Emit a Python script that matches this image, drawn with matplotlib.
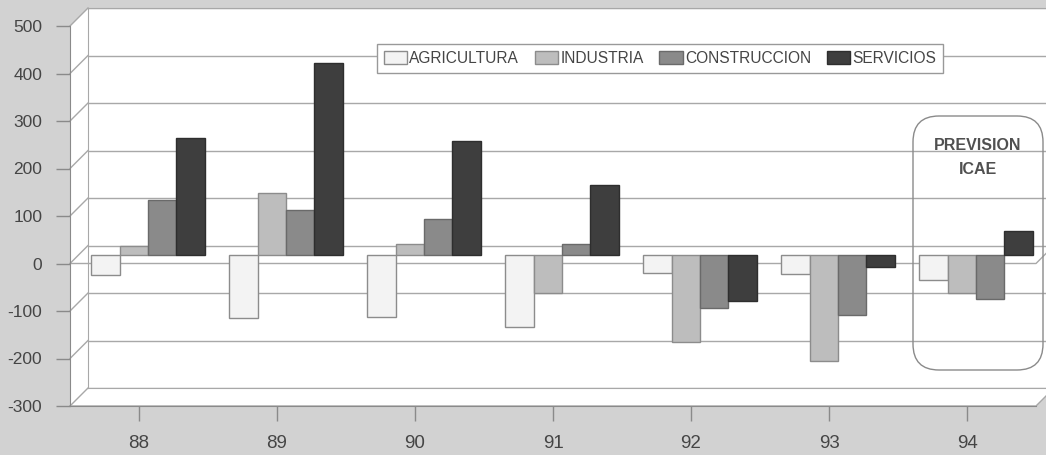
import matplotlib
matplotlib.use("Agg")
import matplotlib.pyplot as plt
import matplotlib.transforms as mtransforms
from matplotlib import font_manager
from matplotlib.patches import Patch, Polygon, FancyBboxPatch
from matplotlib.lines import Line2D
import numpy as np

# data
years = ['88', '89', '90', '91', '92', '93', '94']
series = ['AGRICULTURA', 'INDUSTRIA', 'CONSTRUCCION', 'SERVICIOS']
agricultura = [-44, -133, -131, -152, -38, -42, -53]
industria = [17, 129, 23, -82, -184, -224, -82]
construccion = [114, 93, 74, 23, -112, -127, -93]
servicios = [245, 403, 240, 146, -97, -27, 49]
yticks = [-300, -200, -100, 0, 100, 200, 300, 400, 500]

colors = ['#f3f3f3', '#bdbdbd', '#8a8a8a', '#3e3e3e']
edges = ['#8c8c8c', '#8c8c8c', '#6a6a6a', '#2e2e2e']
bg = '#d2d2d2'
grid = '#a8a8a8'
txt = '#454545'

names = {f.name for f in font_manager.fontManager.ttflist}
fam = 'Liberation Sans Narrow' if 'Liberation Sans Narrow' in names else 'Liberation Sans'
plt.rcParams['font.family'] = [fam, 'DejaVu Sans']

W, H = 1046, 455
fig = plt.figure(figsize=(W / 100, H / 100), dpi=100, facecolor=bg)

# geometry of the pseudo 3D box (pixels, y from top)
left, right = 79, 1045
top, bottom = 17, 397
d = 9  # depth offset


def frac(x, y):
    return x / W, 1 - y / H


def axes_rect(dx, dy):
    return [(left + dx) / W, (H - bottom + dy) / H,
            (right - left) / W, (bottom - top) / H]


ylim = (-300, 500)
xlim = (-0.5, len(years) - 0.5)


def ypix(v, dy):
    # y from top for value v on a plane shifted up by dy
    return bottom - dy - (v - ylim[0]) / (ylim[1] - ylim[0]) * (bottom - top)


# side wall and floor (white)
fx0, bx0 = left - d, left + d
fx1, bx1 = right - d, right + d
side = Polygon([frac(fx0, ypix(500, -d)), frac(bx0, ypix(500, d)),
                frac(bx0, ypix(-300, d)), frac(fx0, ypix(-300, -d))],
               closed=True, transform=fig.transFigure, facecolor='white',
               edgecolor='none', zorder=0)
floor = Polygon([frac(fx0, ypix(-300, -d)), frac(bx0, ypix(-300, d)),
                 frac(bx1, ypix(-300, d)), frac(fx1, ypix(-300, -d))],
                closed=True, transform=fig.transFigure, facecolor='white',
                edgecolor='none', zorder=0)
fig.patches.extend([side, floor])

# back wall
ax_back = fig.add_axes(axes_rect(d, d), zorder=1)
ax_back.set_facecolor('white')
ax_back.set_xlim(xlim)
ax_back.set_ylim(ylim)
ax_back.set_yticks(yticks)
ax_back.set_xticks([])
ax_back.tick_params(left=False, labelleft=False)
ax_back.grid(axis='y', color=grid, lw=1)
for s in ax_back.spines.values():
    s.set_color(grid)
ax_back.spines['right'].set_visible(False)

# diagonals on the side wall, zero plane and floor edge
for v in yticks:
    fig.lines.append(Line2D([fx0 / W, bx0 / W],
                            [1 - ypix(v, -d) / H, 1 - ypix(v, d) / H],
                            transform=fig.transFigure, color=grid, lw=1, zorder=2))
for v in (0, -300):
    fig.lines.append(Line2D([fx0 / W, fx1 / W, bx1 / W],
                            [1 - ypix(v, -d) / H, 1 - ypix(v, -d) / H, 1 - ypix(v, d) / H],
                            transform=fig.transFigure, color=grid, lw=1, zorder=2))

# bars on the middle plane
ax = fig.add_axes(axes_rect(0, 0), zorder=3)
ax.set_facecolor('none')
ax.set_xlim(xlim)
ax.set_ylim(ylim)
ax.axis('off')
x = np.arange(len(years))
w = 0.205
for i, vals in enumerate([agricultura, industria, construccion, servicios]):
    ax.bar(x + (i - 1.5) * w, vals, width=w, color=colors[i],
           edgecolor=edges[i], lw=1, label=series[i])

# front axis with ticks and labels
ax_front = fig.add_axes(axes_rect(-d, -d), zorder=4)
ax_front.set_facecolor('none')
ax_front.set_xlim(xlim)
ax_front.set_ylim(ylim)
for s in ['top', 'right']:
    ax_front.spines[s].set_visible(False)
for s in ['left', 'bottom']:
    ax_front.spines[s].set_color('#8a8a8a')
ax_front.set_yticks(yticks)
ax_front.set_yticklabels([str(v) for v in yticks])
ax_front.set_xticks(x)
ax_front.set_xticklabels(years)
ax_front.tick_params(axis='y', length=10, width=1, color='#8a8a8a', pad=10,
                     labelsize=12.5, labelcolor=txt)
ax_front.tick_params(axis='x', length=11, width=1, color='#8a8a8a', pad=10,
                     labelsize=13.5, labelcolor=txt)

# legend
handles = [Patch(facecolor=colors[i], edgecolor=edges[i], label=series[i])
           for i in range(4)]
leg = fig.legend(handles=handles, ncol=4, loc='center',
                 bbox_to_anchor=(660 / W, 1 - 58.5 / H), fontsize=11.2,
                 frameon=True, fancybox=False, edgecolor='#999999',
                 framealpha=1, handlelength=1.5, handleheight=0.85,
                 handletextpad=0.15, columnspacing=1.0, borderpad=0.45)
leg.set_zorder(5)
for t in leg.get_texts():
    t.set_color(txt)

# forecast box
box = FancyBboxPatch((913, H - 370), 130, 254,
                     boxstyle='round,pad=0,rounding_size=26',
                     transform=mtransforms.IdentityTransform(),
                     facecolor='none', edgecolor='#8a8a8a', lw=1, zorder=6)
fig.patches.append(box)
fig.text(978 / W, 1 - 145 / H, 'PREVISION', ha='center', va='center',
         fontsize=11.5, fontweight='bold', color='#505050')
fig.text(978 / W, 1 - 170 / H, 'ICAE', ha='center', va='center',
         fontsize=11.5, fontweight='bold', color='#505050')

fig.savefig('out.png', dpi=100, facecolor=bg)
